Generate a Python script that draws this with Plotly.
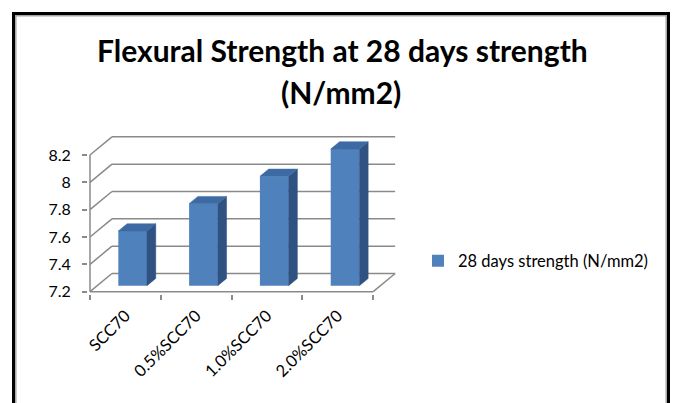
import plotly.graph_objects as go

# Data
CATEGORIES = ["SCC70", "0.5%SCC70", "1.0%SCC70", "2.0%SCC70"]
STRENGTH = [7.6, 7.8, 8.0, 8.2]
Y_TICKS = [7.2, 7.4, 7.6, 7.8, 8.0, 8.2]
Y_TICK_TEXT = ["7.2", "7.4", "7.6", "7.8", "8", "8.2"]
SERIES_NAME = "28 days strength (N/mm2)"
TITLE_LINES = ["Flexural Strength at 28 days strength", "(N/mm2)"]

# Pseudo-3D geometry (depth projected as an x/y shift in axis units)
FLOOR = Y_TICKS[0]
DX, DY = 0.31, 0.133
F0, F1 = 0.33, 0.73
BAR_W = 0.405

FRONT = "#4F81BD"
TOP = "#3D6AA3"
SIDE = "#2F5283"
GRID = "#8a8a8a"
FONT = "Lato"

# Plot-area placement in pixels
W, H = 673, 403
L, T, PW, PH = 88, 130, 322, 164
PX_PER_X, PX_PER_Y = 70.8, 136.7


def px_x(px):
    return (px - L) / PW


def px_y(py):
    return (T + PH - py) / PH


n = len(CATEGORIES)
fig = go.Figure()

# Front faces of the bars
centers = [i + 0.5 + F0 * DX for i in range(n)]
fig.add_trace(go.Bar(
    x=centers,
    y=[v - FLOOR for v in STRENGTH],
    base=FLOOR + F0 * DY,
    width=BAR_W,
    marker=dict(color=FRONT, line=dict(width=0)),
    name=SERIES_NAME,
    showlegend=True,
    hoverinfo="skip",
))

# Side and top faces of the bars
d, dd = (F1 - F0) * DX, (F1 - F0) * DY
for c, v in zip(centers, STRENGTH):
    xl, xr = c - BAR_W / 2, c + BAR_W / 2
    b, t = FLOOR + F0 * DY, v + F0 * DY
    fig.add_trace(go.Scatter(
        x=[xr, xr, xr + d, xr + d, xr], y=[b, t, t + dd, b + dd, b],
        fill="toself", fillcolor=SIDE, mode="lines",
        line=dict(color=SIDE, width=0.5), showlegend=False, hoverinfo="skip"))
    fig.add_trace(go.Scatter(
        x=[xl, xr, xr + d, xl + d, xl], y=[t, t, t + dd, t + dd, t],
        fill="toself", fillcolor=TOP, mode="lines",
        line=dict(color=TOP, width=0.5), showlegend=False, hoverinfo="skip"))

# Walls, floor and gridlines
shapes = []
grid_line = dict(color=GRID, width=1.5)
for v in Y_TICKS:
    shapes.append(dict(type="line", xref="x", yref="y", layer="below",
                       x0=DX, y0=v + DY, x1=n + DX, y1=v + DY, line=grid_line))
    shapes.append(dict(type="line", xref="x", yref="y", layer="below",
                       x0=0, y0=v, x1=DX, y1=v + DY, line=grid_line))
shapes.append(dict(type="line", xref="x", yref="y", layer="below",
                   x0=0, y0=FLOOR, x1=n, y1=FLOOR, line=grid_line))
shapes.append(dict(type="line", xref="x", yref="y", layer="below",
                   x0=n, y0=FLOOR, x1=n + DX, y1=FLOOR + DY, line=grid_line))
shapes.append(dict(type="line", xref="x", yref="y", layer="below",
                   x0=0, y0=FLOOR, x1=0, y1=Y_TICKS[-1], line=grid_line))

# Chart-area frame
shapes.append(dict(type="rect", xref="paper", yref="paper",
                   x0=px_x(13.5), x1=px_x(668.5), y0=px_y(H + 10), y1=px_y(13.5),
                   line=dict(color="#000000", width=3)))
shapes.append(dict(type="rect", xref="paper", yref="paper",
                   x0=px_x(15.8), x1=px_x(666.2), y0=px_y(H + 10), y1=px_y(15.8),
                   line=dict(color="#a6a6a6", width=1.5)))

title_font = dict(family=FONT, size=30, color="#000000", weight="bold")
annotations = [
    dict(text=TITLE_LINES[0], xref="paper", yref="paper", x=px_x(342), y=px_y(50),
         xanchor="center", yanchor="middle", showarrow=False, font=title_font),
    dict(text=TITLE_LINES[1], xref="paper", yref="paper", x=px_x(341), y=px_y(92),
         xanchor="center", yanchor="middle", showarrow=False, font=title_font),
]

tick_font = dict(family=FONT, size=16, color="#000000")
fig.update_layout(
    width=W, height=H,
    margin=dict(l=L, r=W - L - PW, t=T, b=H - T - PH, autoexpand=False),
    paper_bgcolor="white", plot_bgcolor="white",
    showlegend=True,
    legend=dict(xref="container", yref="container", x=418 / W, y=1 - 261 / H,
                xanchor="left", yanchor="middle",
                font=dict(family=FONT, size=16.5, color="#000000"),
                bgcolor="rgba(0,0,0,0)"),
    shapes=shapes,
    annotations=annotations,
    xaxis=dict(range=[-2 / PX_PER_X, (PW - 2) / PX_PER_X],
               tickmode="array", tickvals=[i + 0.5 for i in range(n)],
               ticktext=CATEGORIES, tickangle=-45, ticks="",
               ticklabelstandoff=8,
               minor=dict(tickmode="array", tickvals=list(range(n + 1)),
                          ticks="outside", ticklen=5, tickcolor=GRID, tickwidth=1.5,
                          showgrid=False),
               showgrid=False, zeroline=False, showline=False, fixedrange=True,
               tickfont=dict(family=FONT, size=16.5, color="#000000")),
    yaxis=dict(range=[FLOOR - 2.3 / PX_PER_Y, FLOOR + (PH - 2.3) / PX_PER_Y],
               tickmode="array", tickvals=Y_TICKS, ticktext=Y_TICK_TEXT,
               ticks="outside", ticklen=5, tickcolor=GRID, tickwidth=1.5,
               ticklabelstandoff=8,
               showgrid=False, zeroline=False, showline=False, fixedrange=True,
               tickfont=tick_font),
)

fig.write_html("out.html")
